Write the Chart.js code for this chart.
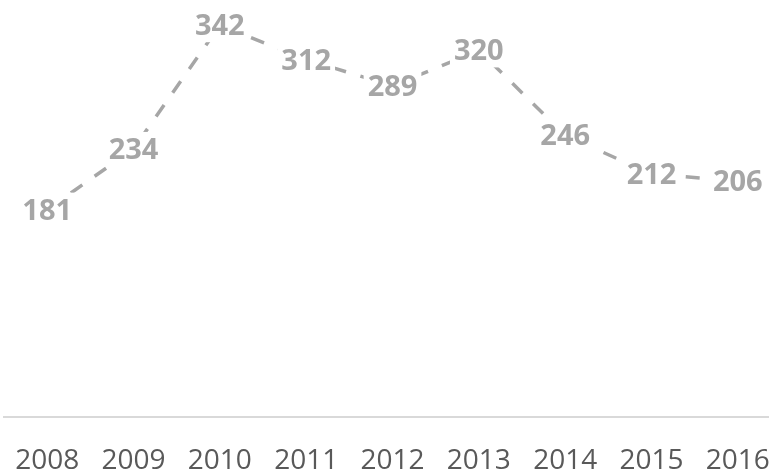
<!DOCTYPE html>
<html>
<head>
<meta charset="utf-8">
<script src="https://cdn.jsdelivr.net/npm/chart.js@4.4.0/dist/chart.umd.min.js"></script>
<style>
  html, body { margin: 0; padding: 0; background: #fff; overflow: hidden; }
  #wrap { width: 790px; height: 472px; }
</style>
</head>
<body>
<div id="wrap"><canvas id="lineChart" width="790" height="472"></canvas></div>
<script>
const years = ['2008', '2009', '2010', '2011', '2012', '2013', '2014', '2015', '2016'];
const values = [181, 234, 342, 312, 289, 320, 246, 212, 206];

const labelColor = '#a6a6a6';

// value labels sit on the points, with a white box that hides the dashed line
const pointLabels = {
  id: 'pointLabels',
  afterDatasetsDraw(chart) {
    const ctx = chart.ctx;
    const meta = chart.getDatasetMeta(0);
    ctx.save();
    ctx.font = 'bold 29px "Open Sans"';
    ctx.textAlign = 'center';
    ctx.textBaseline = 'alphabetic';
    meta.data.forEach((pt, i) => {
      const text = String(values[i]);
      const w = ctx.measureText(text).width;
      ctx.fillStyle = '#fff';
      ctx.fillRect(pt.x - w / 2 - 4, pt.y - 17, w + 8, 34);
      ctx.fillStyle = labelColor;
      ctx.fillText(text, pt.x, pt.y + 10);
    });
    ctx.restore();
  }
};

new Chart(document.getElementById('lineChart'), {
  type: 'line',
  data: {
    labels: years,
    datasets: [{
      data: values,
      borderColor: labelColor,
      borderWidth: 3.5,
      borderDash: [14, 15],
      pointRadius: 0,
      fill: false,
      tension: 0,
    }],
  },
  options: {
    responsive: false,
    animation: false,
    layout: { padding: { left: 4, right: 9, top: 0, bottom: 0 } },
    plugins: { legend: { display: false }, tooltip: { enabled: false } },
    scales: {
      x: {
        offset: true,
        grid: { display: false, drawTicks: false },
        border: { display: true, color: '#d9d9d9', width: 2 },
        ticks: {
          color: '#595959',
          font: { family: '"Open Sans"', size: 28 },
          padding: 27,
          maxRotation: 0,
          autoSkip: false,
        },
        afterFit(scale) {
          scale.height = 55;
          scale.paddingLeft = 0;
          scale.paddingRight = 0;
        },
      },
      y: {
        display: false,
        min: 0,
        max: 364,
      },
    },
  },
  plugins: [pointLabels],
});
</script>
</body>
</html>
